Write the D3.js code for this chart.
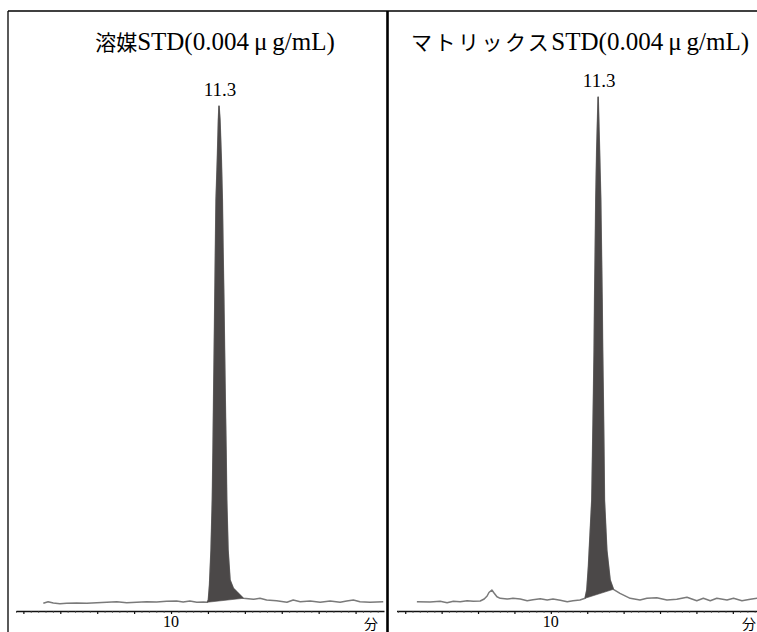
<!DOCTYPE html>
<html>
<head>
<meta charset="utf-8">
<script src="https://cdn.jsdelivr.net/npm/d3@7"></script>
<style>
  html, body { margin: 0; padding: 0; background: #fff; }
  svg { display: block; }
</style>
</head>
<body>
<script>
// ---- Chromatogram data: retention time (min) and relative signal ----

// Solvent standard: baseline before the peak
const solventPreTime   = [6.54, 6.67, 6.81, 6.99, 7.17, 7.44, 7.72, 7.99, 8.26, 8.53, 8.80, 9.07, 9.34, 9.61, 9.88, 10.15, 10.33, 10.51, 10.70, 10.88];
const solventPreSignal = [1.51, 1.82, 1.57, 1.43, 1.51, 1.57, 1.51, 1.63, 1.71, 1.82, 1.63, 1.71, 1.82, 1.76, 1.90, 1.96, 1.76, 1.96, 1.71, 1.76];
// Solvent standard: integrated peak (shaded)
const solventPeakTime   = [10.98, 11.011, 11.043, 11.084, 11.119, 11.138, 11.154, 11.171, 11.187, 11.203, 11.220, 11.255, 11.284, 11.300, 11.326, 11.363, 11.390, 11.409, 11.431, 11.450, 11.469, 11.491, 11.509, 11.545, 11.599, 11.688, 11.789, 11.916, 11.959];
const solventPeakSignal = [1.71, 2.16, 5.10, 11.96, 21.76, 31.57, 41.37, 51.18, 60.98, 70.78, 80.59, 88.43, 96.27, 99.02, 96.27, 88.43, 80.59, 70.78, 60.98, 51.18, 41.37, 31.57, 21.76, 11.96, 6.08, 4.45, 3.73, 2.80, 2.49];
// Solvent standard: baseline after the peak
const solventPostTime   = [12.23, 12.41, 12.59, 12.86, 13.14, 13.31, 13.50, 13.77, 14.04, 14.31, 14.58, 14.76, 14.94, 15.12, 15.39, 15.75];
const solventPostSignal = [2.29, 2.49, 2.16, 2.02, 1.71, 2.16, 1.82, 1.96, 1.71, 1.96, 1.71, 1.96, 2.16, 1.82, 1.71, 1.82];

// Matrix-matched standard: baseline before the peak
const matrixPreTime   = [6.32, 6.68, 6.96, 7.15, 7.32, 7.51, 7.70, 7.87, 8.06, 8.17, 8.25, 8.30, 8.38, 8.44, 8.52, 8.61, 8.80, 8.96, 9.16, 9.35, 9.51, 9.71, 9.90, 10.06, 10.26, 10.45, 10.61, 10.80];
const matrixPreSignal = [1.82, 1.76, 1.90, 1.63, 1.90, 1.82, 2.02, 1.90, 1.96, 2.35, 2.94, 3.63, 4.12, 3.53, 2.80, 2.49, 2.35, 2.49, 2.35, 2.02, 2.22, 2.41, 2.16, 2.35, 2.10, 1.82, 2.02, 2.16];
// Matrix-matched standard: integrated peak (shaded)
const matrixPeakTime   = [10.94, 10.989, 11.033, 11.080, 11.126, 11.148, 11.170, 11.190, 11.203, 11.220, 11.236, 11.261, 11.300, 11.338, 11.371, 11.390, 11.409, 11.423, 11.442, 11.459, 11.473, 11.538, 11.629, 11.720];
const matrixPeakSignal = [2.49, 4.12, 8.69, 15.29, 21.76, 31.57, 41.37, 51.18, 60.98, 70.78, 80.59, 90.39, 100.78, 90.39, 80.59, 70.78, 60.98, 51.18, 41.37, 31.57, 21.76, 11.96, 6.08, 4.25];
// Matrix-matched standard: baseline after the peak
const matrixPostTime   = [11.90, 12.18, 12.45, 12.64, 12.91, 13.19, 13.46, 13.74, 14.01, 14.19, 14.38, 14.56, 14.84, 15.02, 15.25, 15.48, 15.67];
const matrixPostSignal = [3.47, 2.49, 2.16, 2.49, 2.61, 2.16, 2.29, 2.69, 2.02, 2.49, 2.02, 2.49, 2.16, 2.49, 2.02, 2.29, 2.49];

// Panel titles, peak retention-time labels and axis text
const panelTitlesJa  = ["溶媒", "マトリックス"];
const panelTitlesStd = ["STD(0.004", "μ", "g/mL)"];
const peakRT         = [11.3, 11.3];
const peakLabels     = ["11.3", "11.3"];
const majorTicks     = [6, 7, 8, 9, 10, 11, 12, 13, 14, 15];
const labeledTicks   = [10];
const timeUnit       = "分";

// ---- Layout ----
const W = 757, H = 632;
const svg = d3.select("body").append("svg")
  .attr("width", W).attr("height", H)
  .attr("viewBox", `0 0 ${W} ${H}`);

svg.append("rect").attr("width", W).attr("height", H).attr("fill", "#fff");

const serif = "Liberation Serif, Times New Roman, serif";
const cjk = "Noto Sans CJK JP, sans-serif";

const axisY = 611;
const y = d3.scaleLinear().domain([0, 100]).range([axisY, 101]);

const zip = (t, s) => t.map((d, i) => [d, s[i]]);

const panels = [
  {
    x: d3.scaleLinear().domain([5.80, 15.77]).range([16, 384]),
    titleX: 215,
    jaSpacing: 0,
    pre: zip(solventPreTime, solventPreSignal),
    peak: zip(solventPeakTime, solventPeakSignal),
    post: zip(solventPostTime, solventPostSignal),
    unitX: 371
  },
  {
    x: d3.scaleLinear().domain([5.76, 15.95]).range([396.5, 767.4]),
    titleX: 580,
    jaSpacing: 2.5,
    pre: zip(matrixPreTime, matrixPreSignal),
    peak: zip(matrixPeakTime, matrixPeakSignal),
    post: zip(matrixPostTime, matrixPostSignal),
    unitX: 749
  }
];

panels.forEach((p, i) => {
  const g = svg.append("g");
  const line = d3.line().x(d => p.x(d[0])).y(d => y(d[1]));

  // Continuous trace
  const trace = p.pre.concat(p.peak, p.post);
  g.append("path")
    .attr("d", line(trace))
    .attr("fill", "none")
    .attr("stroke", "#7a7a7a")
    .attr("stroke-width", 1.5)
    .attr("stroke-linejoin", "round");

  // Shaded peak area, closed by a straight baseline between its feet
  g.append("path")
    .attr("d", line(p.peak) + "Z")
    .attr("fill", "#4b4848")
    .attr("stroke", "#4b4848")
    .attr("stroke-width", 0.6)
    .attr("stroke-linejoin", "round");

  // Retention-time label above the apex
  const apex = p.peak.reduce((a, b) => (b[1] > a[1] ? b : a));
  g.append("text")
    .attr("x", p.x(peakRT[i]) + 1)
    .attr("y", y(apex[1]) - 10)
    .attr("text-anchor", "middle")
    .style("font-family", serif)
    .style("font-size", "19px")
    .attr("fill", "#000")
    .text(peakLabels[i]);

  // Time axis: major ticks
  const [d0, d1] = p.x.domain();
  const axisMajor = d3.axisBottom(p.x)
    .tickValues(majorTicks.filter(t => t >= d0 && t <= d1))
    .tickSize(3)
    .tickSizeOuter(0)
    .tickFormat("");
  const ga = g.append("g").attr("transform", `translate(0,${axisY})`).call(axisMajor);
  ga.select(".domain").attr("stroke", "#111").attr("stroke-width", 1.4);
  ga.selectAll(".tick line").attr("stroke", "#111").attr("stroke-width", 1.2);

  // Minor ticks every 0.2 min
  const minor = d3.range(Math.ceil(d0 * 5), Math.floor(d1 * 5) + 1).map(k => k / 5)
    .filter(t => Math.abs(t - Math.round(t)) > 1e-6);
  const axisMinor = d3.axisBottom(p.x).tickValues(minor).tickSize(1.6).tickFormat("");
  const gm = g.append("g").attr("transform", `translate(0,${axisY})`).call(axisMinor);
  gm.select(".domain").remove();
  gm.selectAll(".tick line").attr("stroke", "#333").attr("stroke-width", 1);

  // Tick label(s)
  labeledTicks.forEach(t => {
    g.append("text")
      .attr("x", p.x(t))
      .attr("y", 627)
      .attr("text-anchor", "middle")
      .style("font-family", serif)
      .style("font-size", "16px")
      .attr("fill", "#000")
      .text(String(t));
  });

  // Unit label
  g.append("text")
    .attr("x", p.unitX)
    .attr("y", 629)
    .attr("text-anchor", "middle")
    .style("font-family", cjk)
    .style("font-size", "14px")
    .attr("fill", "#000")
    .text(timeUnit);

  // Panel title
  const title = g.append("text")
    .attr("x", p.titleX)
    .attr("y", 50)
    .attr("text-anchor", "middle")
    .attr("fill", "#000");
  title.append("tspan")
    .style("font-family", cjk).style("font-size", "21px")
    .attr("letter-spacing", p.jaSpacing)
    .text(panelTitlesJa[i]);
  title.append("tspan")
    .style("font-family", serif).style("font-size", "25px")
    .text(panelTitlesStd[0]);
  title.append("tspan")
    .style("font-family", serif).style("font-size", "25px")
    .attr("dx", 5)
    .text(panelTitlesStd[1]);
  title.append("tspan")
    .style("font-family", serif).style("font-size", "25px")
    .attr("dx", 5)
    .text(panelTitlesStd[2]);
});

// ---- Frame: outer border and panel divider ----
svg.append("line")
  .attr("x1", 8).attr("x2", W).attr("y1", 11).attr("y2", 11)
  .attr("stroke", "#000").attr("stroke-width", 1.3);
svg.append("line")
  .attr("x1", 8).attr("x2", 8).attr("y1", 11).attr("y2", H)
  .attr("stroke", "#000").attr("stroke-width", 1.3);
svg.append("line")
  .attr("x1", 387.5).attr("x2", 387.5).attr("y1", 11).attr("y2", H)
  .attr("stroke", "#000").attr("stroke-width", 2.6);
</script>
</body>
</html>
